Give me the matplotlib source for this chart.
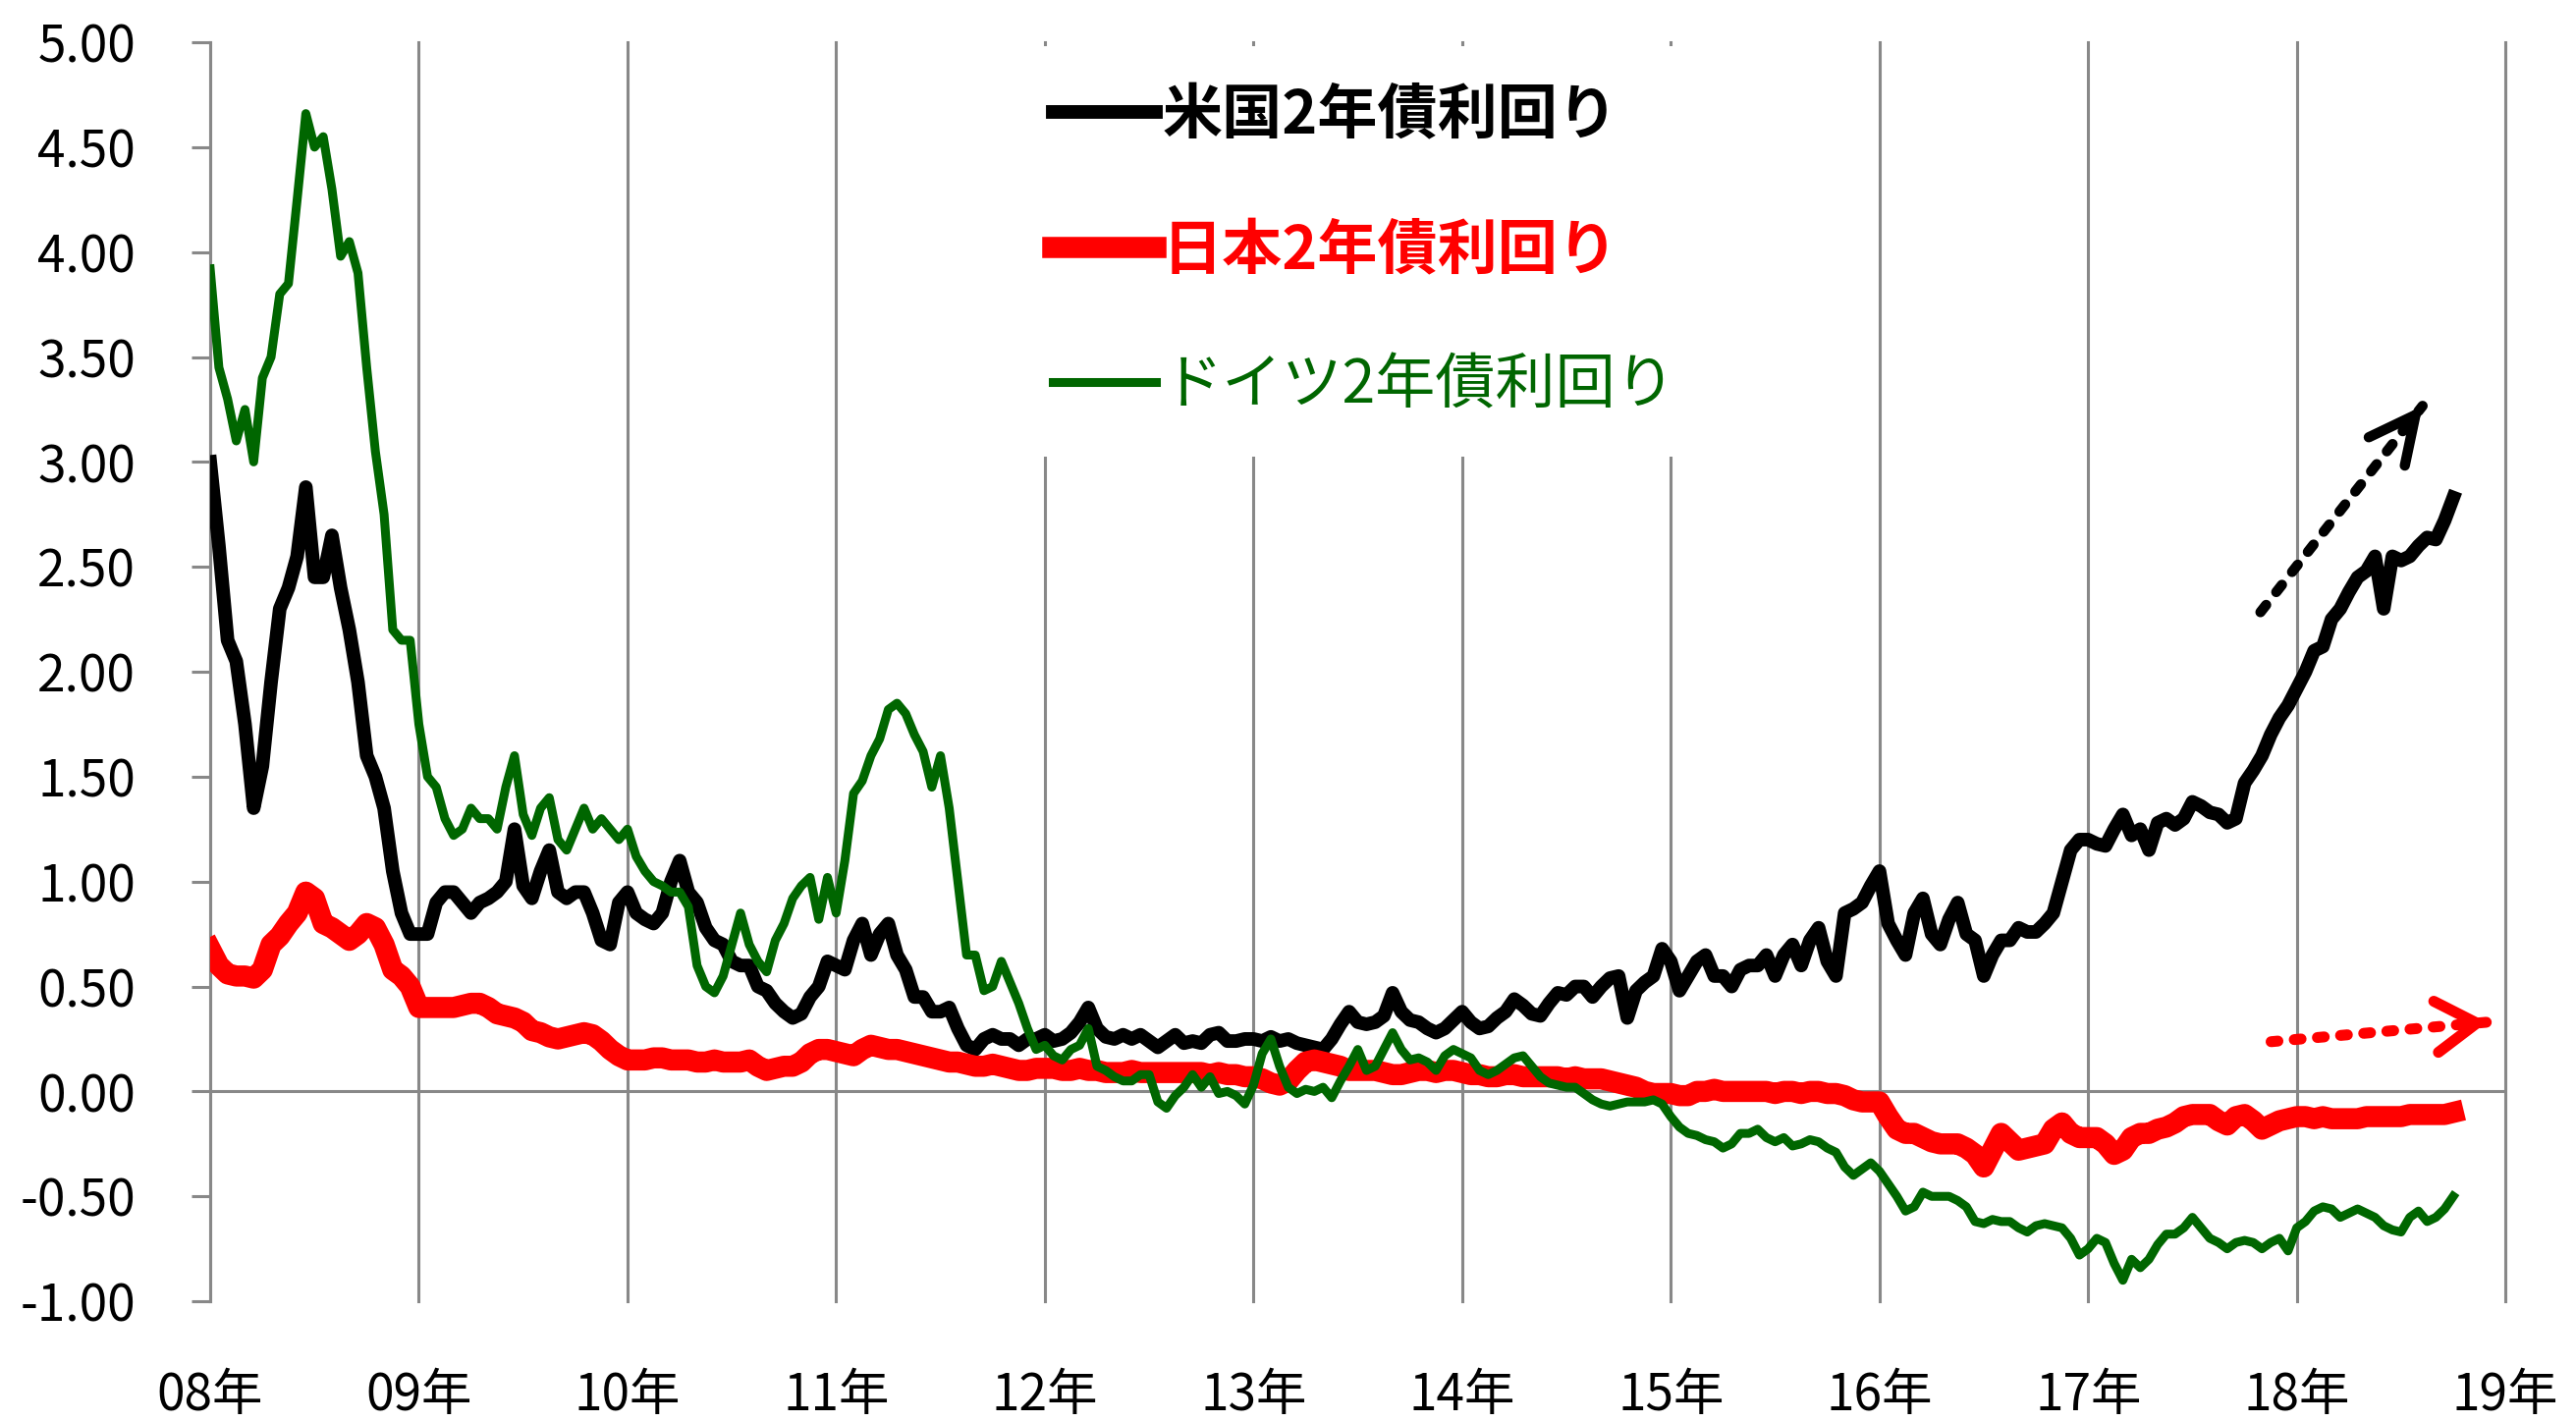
import numpy as np
import matplotlib
matplotlib.use("Agg")
import matplotlib.pyplot as plt

plt.rcParams['font.family'] = ['Noto Sans CJK JP', 'DejaVu Sans']

# 2-year yields (Jan 2008 .. Sep 2018)
us_2008 = [3.00, 2.60, 2.15, 2.05, 1.75, 1.35, 1.55, 1.95, 2.30, 2.40, 2.55, 2.88,
           2.45, 2.45, 2.65, 2.40, 2.20, 1.95, 1.60, 1.50, 1.35, 1.05, 0.85, 0.75]
us_2009 = [0.75, 0.75, 0.90, 0.95, 0.95, 0.90, 0.85, 0.90, 0.92, 0.95, 1.00, 1.25,
           0.98, 0.92, 1.05, 1.15, 0.95, 0.92, 0.95, 0.95, 0.85, 0.72, 0.70, 0.90]
us_2010 = [0.95, 0.85, 0.82, 0.80, 0.85, 1.00, 1.10, 0.95, 0.90, 0.78, 0.72, 0.70,
           0.62, 0.60, 0.60, 0.50, 0.48, 0.42, 0.38, 0.35, 0.37, 0.45, 0.50, 0.62]
us_2011 = [0.60, 0.58, 0.72, 0.80, 0.65, 0.75, 0.80, 0.65, 0.58, 0.45, 0.45, 0.38,
           0.38, 0.40, 0.30, 0.22, 0.20, 0.25, 0.27, 0.25, 0.25, 0.22, 0.25, 0.25]
us_2012 = [0.27, 0.24, 0.25, 0.28, 0.33, 0.40, 0.30, 0.26, 0.25, 0.27, 0.25, 0.27,
           0.24, 0.21, 0.24, 0.27, 0.23, 0.24, 0.23, 0.27, 0.28, 0.24, 0.24, 0.25]
us_2013 = [0.25, 0.24, 0.26, 0.24, 0.25, 0.23, 0.22, 0.21, 0.20, 0.25, 0.32, 0.38,
           0.33, 0.32, 0.33, 0.36, 0.47, 0.38, 0.34, 0.33, 0.30, 0.28, 0.30, 0.34]
us_2014 = [0.38, 0.33, 0.30, 0.31, 0.35, 0.38, 0.44, 0.41, 0.37, 0.36, 0.42, 0.47,
           0.46, 0.50, 0.50, 0.45, 0.50, 0.54, 0.55, 0.35, 0.48, 0.52, 0.55, 0.68]
us_2015 = [0.62, 0.48, 0.55, 0.62, 0.65, 0.55, 0.55, 0.50, 0.58, 0.60, 0.60, 0.65,
           0.55, 0.65, 0.70, 0.60, 0.72, 0.78, 0.62, 0.55, 0.85, 0.87, 0.90, 0.98]
us_2016 = [1.05, 0.80, 0.72, 0.65, 0.85, 0.92, 0.75, 0.70, 0.82, 0.90, 0.75, 0.72,
           0.55, 0.65, 0.72, 0.72, 0.78, 0.76, 0.76, 0.80, 0.85, 1.00, 1.15, 1.20]
us_2017 = [1.20, 1.18, 1.17, 1.25, 1.32, 1.22, 1.25, 1.15, 1.28, 1.30, 1.27, 1.30,
           1.38, 1.36, 1.33, 1.32, 1.28, 1.30, 1.47, 1.53, 1.60, 1.70, 1.78, 1.84]
us_2018 = [1.92, 2.00, 2.10, 2.12, 2.25, 2.30, 2.38, 2.45, 2.48, 2.55, 2.30, 2.55,
           2.53, 2.55, 2.60, 2.64, 2.63, 2.72, 2.83]

jp_2008 = [0.68, 0.60, 0.56, 0.55, 0.55, 0.54, 0.58, 0.70, 0.74, 0.80, 0.85, 0.95,
           0.92, 0.80, 0.78, 0.75, 0.72, 0.75, 0.80, 0.78, 0.70, 0.58, 0.55, 0.50]
jp_2009 = [0.40, 0.40, 0.40, 0.40, 0.40, 0.41, 0.42, 0.42, 0.40, 0.37, 0.36, 0.35,
           0.33, 0.29, 0.28, 0.26, 0.25, 0.26, 0.27, 0.28, 0.27, 0.24, 0.20, 0.17]
jp_2010 = [0.15, 0.15, 0.15, 0.16, 0.16, 0.15, 0.15, 0.15, 0.14, 0.14, 0.15, 0.14,
           0.14, 0.14, 0.15, 0.12, 0.10, 0.11, 0.12, 0.12, 0.14, 0.18, 0.20, 0.20]
jp_2011 = [0.19, 0.18, 0.17, 0.20, 0.22, 0.21, 0.20, 0.20, 0.19, 0.18, 0.17, 0.16,
           0.15, 0.14, 0.14, 0.13, 0.12, 0.12, 0.13, 0.12, 0.11, 0.10, 0.10, 0.11]
jp_2012 = [0.11, 0.11, 0.10, 0.10, 0.11, 0.10, 0.10, 0.09, 0.09, 0.09, 0.10, 0.09,
           0.09, 0.09, 0.09, 0.09, 0.09, 0.09, 0.09, 0.08, 0.09, 0.08, 0.08, 0.07]
jp_2013 = [0.07, 0.06, 0.04, 0.03, 0.05, 0.10, 0.14, 0.15, 0.14, 0.13, 0.12, 0.10,
           0.10, 0.10, 0.10, 0.09, 0.08, 0.08, 0.09, 0.10, 0.10, 0.09, 0.10, 0.10]
jp_2014 = [0.09, 0.08, 0.08, 0.07, 0.07, 0.08, 0.08, 0.07, 0.07, 0.07, 0.07, 0.07,
           0.06, 0.07, 0.06, 0.06, 0.06, 0.05, 0.04, 0.03, 0.02, 0.00, -0.01, -0.01]
jp_2015 = [-0.01, -0.02, -0.02, 0.00, 0.00, 0.01, 0.00, 0.00, 0.00, 0.00, 0.00, 0.00,
           -0.01, 0.00, 0.00, -0.01, 0.00, 0.00, -0.01, -0.01, -0.02, -0.04, -0.05, -0.05]
jp_2016 = [-0.05, -0.12, -0.18, -0.20, -0.20, -0.22, -0.24, -0.25, -0.25, -0.25, -0.27, -0.30,
           -0.36, -0.28, -0.20, -0.24, -0.28, -0.27, -0.26, -0.25, -0.18, -0.15, -0.20, -0.22]
jp_2017 = [-0.22, -0.22, -0.25, -0.30, -0.28, -0.22, -0.20, -0.20, -0.18, -0.17, -0.15, -0.12,
           -0.11, -0.11, -0.11, -0.14, -0.16, -0.12, -0.11, -0.14, -0.18, -0.16, -0.14, -0.13]
jp_2018 = [-0.12, -0.12, -0.13, -0.12, -0.13, -0.13, -0.13, -0.13, -0.12, -0.12, -0.12, -0.12,
           -0.12, -0.11, -0.11, -0.11, -0.11, -0.11, -0.10]

de_2008 = [3.92, 3.45, 3.30, 3.10, 3.25, 3.00, 3.40, 3.50, 3.80, 3.85, 4.25, 4.66,
           4.50, 4.55, 4.30, 3.98, 4.05, 3.90, 3.45, 3.05, 2.75, 2.20, 2.15, 2.15]
de_2009 = [1.75, 1.50, 1.45, 1.30, 1.22, 1.25, 1.35, 1.30, 1.30, 1.25, 1.45, 1.60,
           1.32, 1.22, 1.35, 1.40, 1.20, 1.15, 1.25, 1.35, 1.25, 1.30, 1.25, 1.20]
de_2010 = [1.25, 1.12, 1.05, 1.00, 0.98, 0.95, 0.95, 0.88, 0.60, 0.50, 0.47, 0.55,
           0.70, 0.85, 0.70, 0.62, 0.57, 0.72, 0.80, 0.92, 0.98, 1.02, 0.82, 1.02]
de_2011 = [0.85, 1.10, 1.42, 1.48, 1.60, 1.68, 1.82, 1.85, 1.80, 1.70, 1.62, 1.45,
           1.60, 1.35, 1.00, 0.65, 0.65, 0.48, 0.50, 0.62, 0.52, 0.42, 0.30, 0.20]
de_2012 = [0.22, 0.17, 0.15, 0.20, 0.22, 0.30, 0.12, 0.10, 0.07, 0.05, 0.05, 0.08,
           0.08, -0.05, -0.08, -0.02, 0.02, 0.08, 0.02, 0.07, -0.01, 0.00, -0.02, -0.06]
de_2013 = [0.03, 0.18, 0.25, 0.12, 0.02, -0.01, 0.01, 0.00, 0.02, -0.03, 0.05, 0.12,
           0.20, 0.10, 0.12, 0.20, 0.28, 0.20, 0.15, 0.16, 0.14, 0.10, 0.17, 0.20]
de_2014 = [0.18, 0.16, 0.10, 0.08, 0.10, 0.13, 0.16, 0.17, 0.12, 0.07, 0.04, 0.03,
           0.02, 0.02, -0.01, -0.04, -0.06, -0.07, -0.06, -0.05, -0.05, -0.05, -0.04, -0.06]
de_2015 = [-0.12, -0.17, -0.20, -0.21, -0.23, -0.24, -0.27, -0.25, -0.20, -0.20, -0.18, -0.22,
           -0.24, -0.22, -0.26, -0.25, -0.23, -0.24, -0.27, -0.29, -0.36, -0.40, -0.37, -0.34]
de_2016 = [-0.38, -0.44, -0.50, -0.57, -0.55, -0.48, -0.50, -0.50, -0.50, -0.52, -0.55, -0.62,
           -0.63, -0.61, -0.62, -0.62, -0.65, -0.67, -0.64, -0.63, -0.64, -0.65, -0.70, -0.78]
de_2017 = [-0.75, -0.70, -0.72, -0.82, -0.90, -0.80, -0.84, -0.80, -0.73, -0.68, -0.68, -0.65,
           -0.60, -0.65, -0.70, -0.72, -0.75, -0.72, -0.71, -0.72, -0.75, -0.72, -0.70, -0.76]
de_2018 = [-0.65, -0.62, -0.57, -0.55, -0.56, -0.60, -0.58, -0.56, -0.58, -0.60, -0.64, -0.66,
           -0.67, -0.60, -0.57, -0.62, -0.60, -0.56, -0.50]

us = us_2008 + us_2009 + us_2010 + us_2011 + us_2012 + us_2013 + us_2014 + us_2015 + us_2016 + us_2017 + us_2018
jp = jp_2008 + jp_2009 + jp_2010 + jp_2011 + jp_2012 + jp_2013 + jp_2014 + jp_2015 + jp_2016 + jp_2017 + jp_2018
de = de_2008 + de_2009 + de_2010 + de_2011 + de_2012 + de_2013 + de_2014 + de_2015 + de_2016 + de_2017 + de_2018

series_names = ['米国2年債利回り', '日本2年債利回り', 'ドイツ2年債利回り']
series_colors = ['#000000', '#ff0000', '#006600']
series_widths = [10, 15.5, 6.5]
series_weights = ['bold', 'bold', 'normal']

years = list(range(2008, 2020))
year_labels = [f'{y % 100:02d}年' for y in years]
y_ticks = np.arange(-1.0, 5.01, 0.5)
y_labels = [f'{v:.2f}' for v in y_ticks]

# trend arrows (tail, tip) in data units
us_arrow = ((2017.826, 2.284), (2018.603, 3.267))
jp_arrow = ((2017.877, 0.237), (2018.912, 0.330))

GRAY = '#888888'
t = 2008 + np.arange(len(us)) / 24

fig = plt.figure(figsize=(26.23, 14.48), dpi=100)
ax = fig.add_axes([0.0816, 0.0849, 0.8910, 0.8854])

for vals, name, col, lw in zip([us, jp, de], series_names, series_colors, series_widths):
    ax.plot(t, vals, color=col, lw=lw, label=name, zorder=3)

ax.set_xlim(2008, 2019)
ax.set_ylim(-1, 5)
ax.set_xticks(years)
ax.set_xticklabels(year_labels, fontsize=37)
ax.set_yticks(y_ticks)
ax.set_yticklabels(y_labels, fontsize=37)
ax.tick_params(axis='x', length=0, pad=50)
ax.tick_params(axis='y', length=13.7, width=2.2, color=GRAY, pad=41)

ax.grid(axis='x', color=GRAY, lw=2.2)
for gl in ax.get_xgridlines():
    gl.set_clip_on(False)
ax.axhline(0, color=GRAY, lw=2.2, zorder=1.5)

for side in ['top', 'right', 'bottom']:
    ax.spines[side].set_visible(False)
ax.spines['left'].set_color(GRAY)
ax.spines['left'].set_linewidth(2.2)

leg = ax.legend(loc='upper left', bbox_to_anchor=(0.350, 0.9969), fontsize=44,
                frameon=True, facecolor='white', edgecolor='none', framealpha=1,
                fancybox=False, borderaxespad=0, borderpad=0.66,
                handlelength=1.72, handletextpad=0.1, labelspacing=1.24)
leg.set_zorder(5)
for txt, col, wt in zip(leg.get_texts(), series_colors, series_weights):
    txt.set_color(col)
    txt.set_fontweight(wt)


def trend_arrow(tail, tip, color, lw, dash, head):
    # dotted shaft
    ax.annotate('', xy=tip, xytext=tail,
                arrowprops=dict(arrowstyle='-', color=color, lw=lw, linestyle=dash,
                                shrinkA=0, shrinkB=0), zorder=6)
    # solid open head
    back = (tip[0] - 0.08 * (tip[0] - tail[0]), tip[1] - 0.08 * (tip[1] - tail[1]))
    ax.annotate('', xy=tip, xytext=back,
                arrowprops=dict(arrowstyle=head, color=color, lw=lw,
                                shrinkA=0, shrinkB=0, mutation_scale=40), zorder=6)


trend_arrow(us_arrow[0], us_arrow[1], 'black', 7.5, (0, (0.9, 1.6)),
            '->,head_length=0.85,head_width=0.42')
trend_arrow(jp_arrow[0], jp_arrow[1], 'red', 8, (0, (0.63, 1.5)),
            '->,head_length=0.75,head_width=0.47')

fig.savefig('out.png', dpi=100)
